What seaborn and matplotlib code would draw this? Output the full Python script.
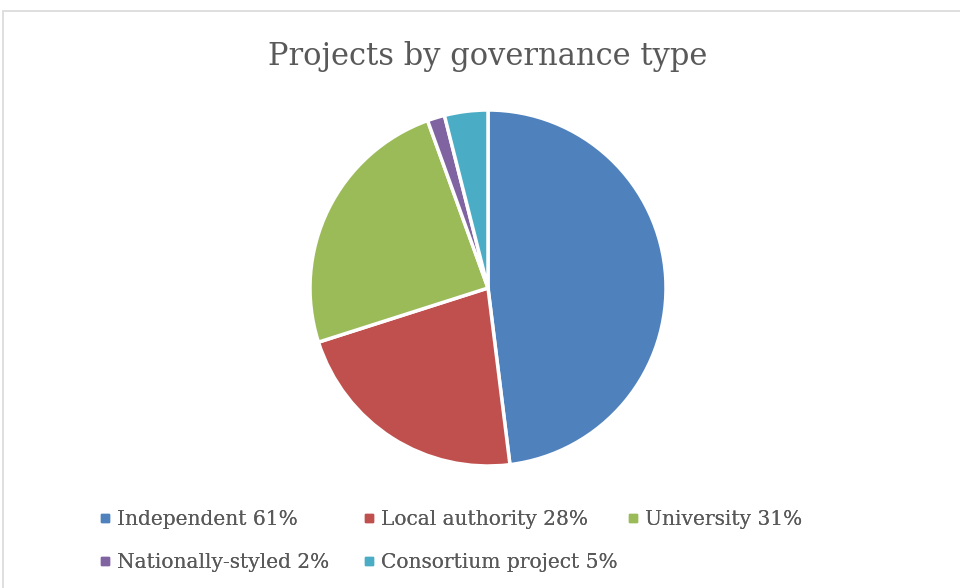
import matplotlib
matplotlib.use("Agg")
import matplotlib.pyplot as plt
from matplotlib.lines import Line2D
from matplotlib.patches import Rectangle
import seaborn as sns

categories = ["Independent", "Local authority", "University", "Nationally-styled", "Consortium project"]
values = [61, 28, 31, 2, 5]
labels = ["Independent 61%", "Local authority 28%", "University 31%", "Nationally-styled 2%", "Consortium project 5%"]
colors = ["#4F81BD", "#C0504D", "#9BBB59", "#8064A2", "#4BACC6"]

sns.set_theme(style="white")
plt.rcParams['font.family'] = ['DejaVu Serif']

W, H = 960, 588
fig = plt.figure(figsize=(W / 100, H / 100), dpi=100)
fig.patch.set_facecolor("white")

# chart area border
fig.add_artist(Rectangle((3 / W, -0.1), 1.1, 1 - 11 / H + 0.1, transform=fig.transFigure,
                         fill=False, edgecolor="#D9D9D9", linewidth=1.2))

cx, cy, r = 488, 288, 178
ax = fig.add_axes([(cx - r) / W, (H - cy - r) / H, 2 * r / W, 2 * r / H])
wedges, _ = ax.pie(values, colors=sns.color_palette(colors), startangle=90, counterclock=False,
                   wedgeprops=dict(edgecolor="white", linewidth=2.5))
ax.set_xlim(-1, 1)
ax.set_ylim(-1, 1)
ax.set_aspect("equal")
ax.axis("off")

fig.text(cx / W, 1 - 56 / H, "Projects by governance type", ha="center", va="center",
         fontsize=22, color="#595959")

handles = [Line2D([], [], marker="s", linestyle="none", markersize=6, color=c) for c in colors]
columns = [[0, 3], [1, 4], [2]]
col_x = [93, 357, 621]
for idxs, x in zip(columns, col_x):
    leg = fig.legend([handles[i] for i in idxs], [labels[i] for i in idxs], ncol=1,
                     loc="upper left", bbox_to_anchor=(x / W, 1 - 504 / H), frameon=False,
                     fontsize=14.5, labelcolor="#595959", handlelength=0.6, handletextpad=0.3,
                     labelspacing=1.2, borderaxespad=0, borderpad=0.3)
    fig.add_artist(leg)

fig.savefig("out.png", dpi=100)
